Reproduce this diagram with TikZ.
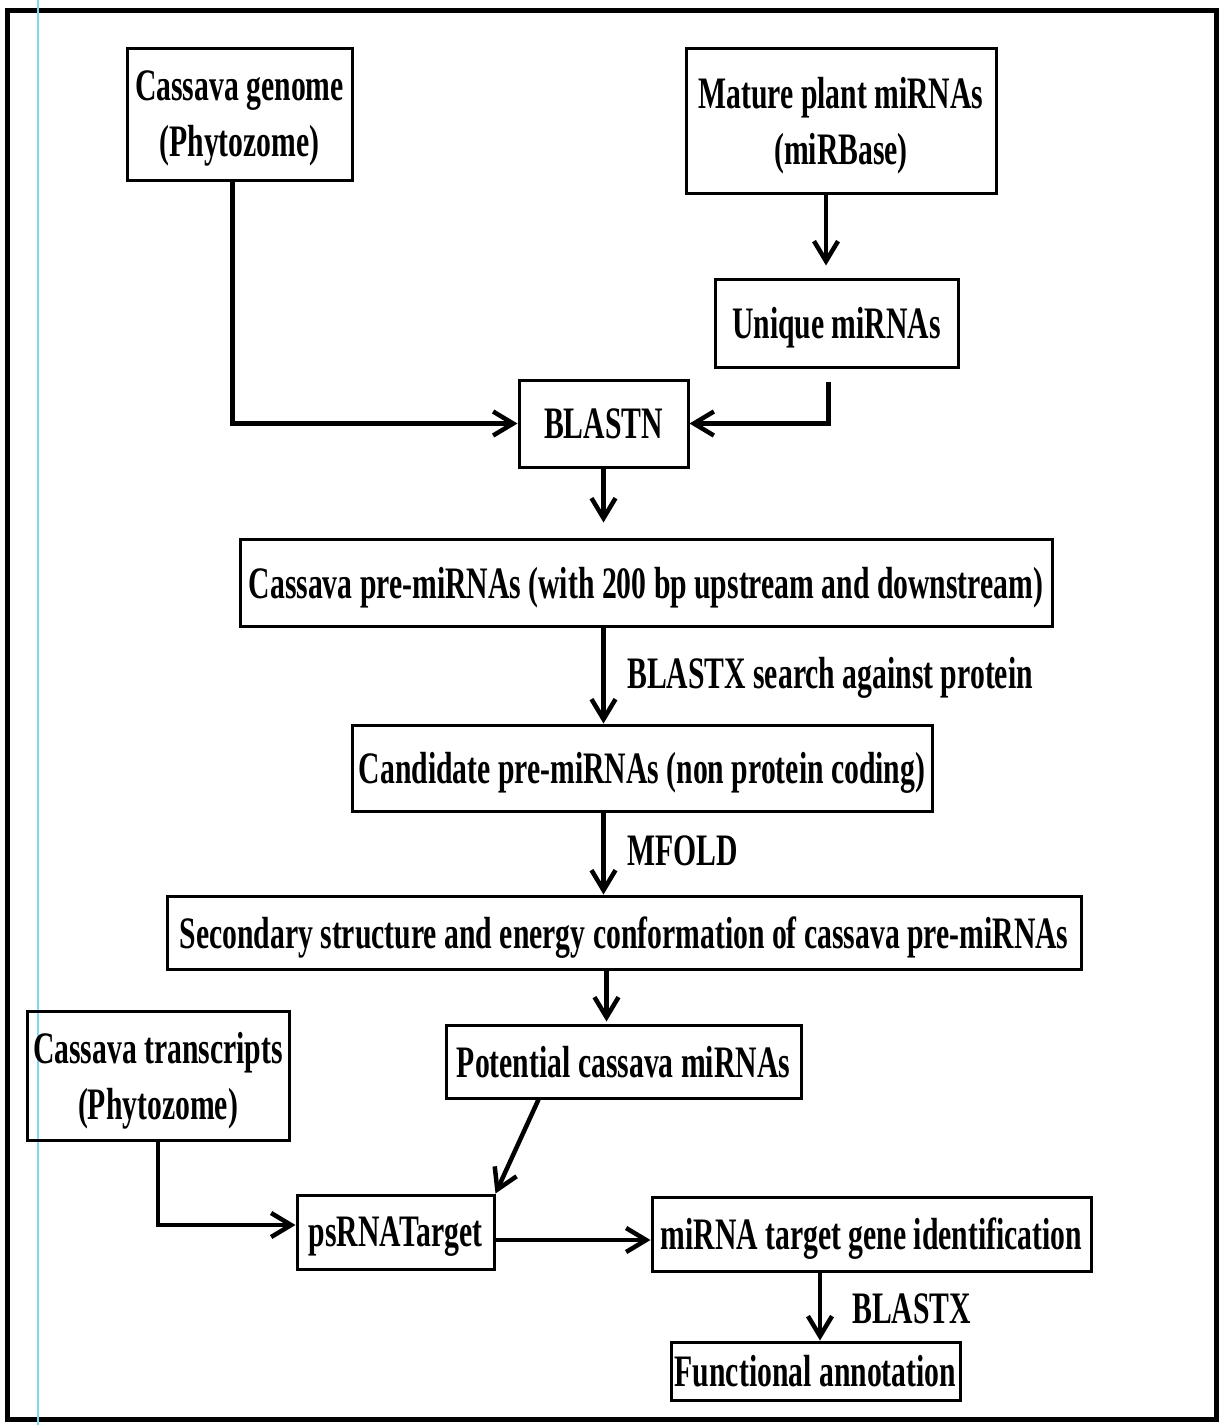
\documentclass[tikz,border=0pt]{standalone}
\usepackage{fontspec}
\setmainfont{Liberation Serif}[FakeStretch=0.66]
\usetikzlibrary{arrows.meta}
\begin{document}
\begin{tikzpicture}[x=1pt,y=-1pt,
  txt/.style={font=\fontsize{45}{56}\selectfont\bfseries},
  box/.style={draw, line width=3pt, inner sep=0pt, align=center, text depth=0pt, txt},
  conn/.style={line width=4.5pt, -{Straight Barb[length=20pt,width=24pt,line width=4.5pt]}},
  lbl/.style={txt, anchor=west, inner sep=0pt}]
\useasboundingbox (0,0) rectangle (1224,1425);
\fill[white] (0,0) rectangle (1224,1425);
\draw[line width=5pt] (7,10) rectangle (1216,1419);
\draw[cyan!50, line width=1.5pt] (38,0) -- (38,1425);

\node[box, minimum width=225pt, minimum height=132pt] (genome) at (239.5,114) {Cassava genome\\(Phytozome)};
\node[box, minimum width=310pt, minimum height=145pt] (mature) at (841,120.5) {Mature plant miRNAs\\(miRBase)};
\node[box, minimum width=243pt, minimum height=88pt] (unique) at (836.5,323) {Unique miRNAs};
\node[box, minimum width=169pt, minimum height=87pt] (blastn) at (603.5,423.5) {BLASTN};
\node[box, minimum width=812pt, minimum height=87pt] (pre) at (646,582.5) {Cassava pre-miRNAs (with 200 bp upstream and downstream)};
\node[box, minimum width=580pt, minimum height=86pt] (cand) at (642,768) {Candidate pre-miRNAs (non protein coding)};
\node[box, minimum width=914pt, minimum height=73pt] (sec) at (624,932.5) {Secondary structure and energy conformation of cassava pre-miRNAs};
\node[box, minimum width=355pt, minimum height=73pt] (pot) at (623.5,1061.5) {Potential cassava miRNAs};
\node[box, minimum width=262pt, minimum height=129pt] (trans) at (158,1075.5) {Cassava transcripts\\(Phytozome)};
\node[box, minimum width=197pt, minimum height=74pt] (ps) at (395.5,1232) {psRNATarget};
\node[box, minimum width=439pt, minimum height=74pt] (tgt) at (871.5,1234) {miRNA target gene identification};
\node[box, minimum width=289pt, minimum height=58pt] (func) at (815.5,1371) {Functional annotation};

\node[lbl] (l1) at (627,678) {BLASTX search against protein};
\node[lbl] (l2) at (627,851) {MFOLD};
\node[lbl] (l3) at (852,1309) {BLASTX};

\draw[conn] ([xshift=-7pt]genome.south) |- (blastn.west);
\draw[conn, shorten >=12pt] ([xshift=-15pt]mature.south) -- ([xshift=-15pt]mature.south |- unique.north);
\draw[conn, shorten <=13pt] ([xshift=-8pt]unique.south) |- (blastn.east);
\draw[conn, shorten >=15pt] (blastn.south) -- (blastn.south |- pre.north);
\draw[conn] (blastn.south |- pre.south) -- (blastn.south |- cand.north);
\draw[conn] (blastn.south |- cand.south) -- (blastn.south |- sec.north);
\draw[conn, shorten >=2pt] ([xshift=-17pt]pot.north |- sec.south) -- ([xshift=-17pt]pot.north);
\draw[conn] ([xshift=-85pt]pot.south) -- (ps.north east);
\draw[conn] (trans.south) |- ([yshift=7pt]ps.west);
\draw[conn] ([yshift=-8pt]ps.east) -- ([yshift=-8pt]ps.east -| tgt.west);
\draw[conn] ([xshift=-51.5pt]tgt.south) -- ([xshift=-51.5pt]tgt.south |- func.north);
\end{tikzpicture}
\end{document}
